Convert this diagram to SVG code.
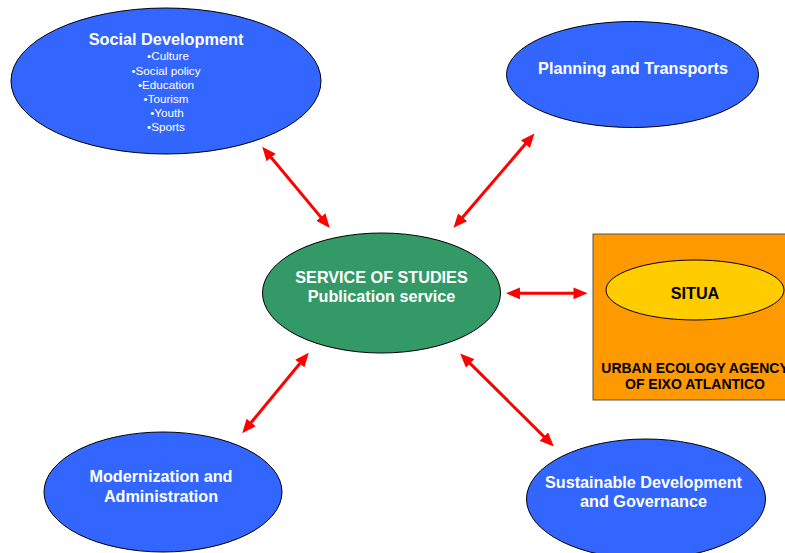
<svg xmlns="http://www.w3.org/2000/svg" width="785" height="553" viewBox="0 0 785 553">
<style>
.node ellipse{stroke:#000;stroke-width:1}
.blue{fill:#3366FF}
.t{font-family:"Liberation Sans",Arial,sans-serif;font-weight:bold;text-anchor:middle}
.n{font-family:"Liberation Sans",Arial,sans-serif;text-anchor:middle;fill:#fff;font-size:11.7px}
.w{fill:#fff}
.k{fill:#000}
.conn line{stroke:#FF0000;stroke-width:3;marker-start:url(#ah);marker-end:url(#ah)}
</style>
<defs>
<marker id="ah" markerUnits="userSpaceOnUse" markerWidth="14" markerHeight="12" viewBox="0 0 13 11" refX="3" refY="5.5" orient="auto-start-reverse">
<path d="M0,0 L13,5.5 L0,11 z" fill="#FF0000"/>
</marker>
</defs>
<rect width="785" height="553" fill="#fff"/>
<g id="situa-agency">
<rect x="593" y="234" width="200" height="166" fill="#FF9900" stroke="#555" stroke-width="1"/>
<g id="situa" class="node">
<ellipse cx="695" cy="290" rx="89" ry="30" fill="#FFCC00"/>
<text class="t k" x="695" y="299" font-size="16.2">SITUA</text>
</g>
<text class="t k" x="695" y="373" font-size="14">URBAN ECOLOGY AGENCY</text>
<text class="t k" x="695" y="389" font-size="14">OF EIXO ATLANTICO</text>
</g>
<g id="social" class="node">
<ellipse class="blue" cx="166" cy="81" rx="155" ry="73"/>
<text class="t w" x="166" y="45" font-size="16.3">Social Development</text>
<text class="n" x="168" y="60">•Culture</text>
<text class="n" x="166" y="75">•Social policy</text>
<text class="n" x="166" y="89">•Education</text>
<text class="n" x="166" y="103">•Tourism</text>
<text class="n" x="167" y="117">•Youth</text>
<text class="n" x="166" y="131">•Sports</text>
</g>
<g id="planning" class="node">
<ellipse class="blue" cx="632.5" cy="74.5" rx="126" ry="53"/>
<text class="t w" x="633" y="74" font-size="16.2">Planning and Transports</text>
</g>
<g id="service" class="node">
<ellipse cx="381.5" cy="293" rx="119" ry="60" fill="#339966"/>
<text class="t w" x="381.5" y="283" font-size="16.2">SERVICE OF STUDIES</text>
<text class="t w" x="381.5" y="302" font-size="16.2">Publication service</text>
</g>
<g id="modernization" class="node">
<ellipse class="blue" cx="163" cy="492" rx="119" ry="60"/>
<text class="t w" x="161" y="482" font-size="16.2">Modernization and</text>
<text class="t w" x="161" y="502" font-size="16.2">Administration</text>
</g>
<g id="sustainable" class="node">
<ellipse class="blue" cx="646" cy="499" rx="119.5" ry="60"/>
<text class="t w" x="643.5" y="488" font-size="16.2">Sustainable Development</text>
<text class="t w" x="643.5" y="507" font-size="16.2">and Governance</text>
</g>
<g id="connectors" class="conn">
<line x1="269.1" y1="155" x2="322.9" y2="219.6"/>
<line x1="527.5" y1="141.6" x2="460.5" y2="219.7"/>
<line x1="516.7" y1="293.3" x2="576.7" y2="293.3"/>
<line x1="301.9" y1="361" x2="249.1" y2="425"/>
<line x1="467.8" y1="361.1" x2="546.2" y2="438.9"/>
</g>
</svg>
